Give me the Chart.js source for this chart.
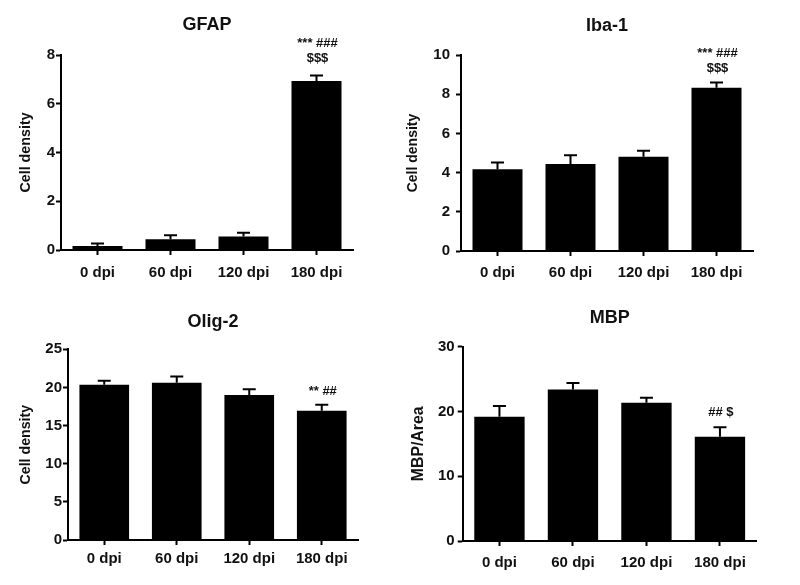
<!DOCTYPE html>
<html><head><meta charset="utf-8">
<script src="https://cdn.jsdelivr.net/npm/chart.js@4/dist/chart.umd.min.js"></script>
<style>
html,body{margin:0;padding:0;background:#fff;overflow:hidden;width:800px;height:585px;}
.p{position:absolute;}
canvas{display:block;}
</style></head><body>
<div class="p" style="left:0;top:0"><canvas id="c1" width="400" height="290"></canvas></div>
<div class="p" style="left:400px;top:0"><canvas id="c2" width="400" height="290"></canvas></div>
<div class="p" style="left:0;top:290px"><canvas id="c3" width="400" height="295"></canvas></div>
<div class="p" style="left:400px;top:290px"><canvas id="c4" width="400" height="295"></canvas></div>
<script>
const categories = ['0 dpi', '60 dpi', '120 dpi', '180 dpi'];

const gfapMean = [0.16, 0.44, 0.55, 6.93];
const gfapSem  = [0.11, 0.17, 0.16, 0.23];
const gfapSig  = [[], [], [], ['*** ###', '$$$']];
const gfapTicks = [0, 2, 4, 6, 8];

const ibaMean = [4.17, 4.44, 4.81, 8.33];
const ibaSem  = [0.35, 0.44, 0.31, 0.27];
const ibaSig  = [[], [], [], ['*** ###', '$$$']];
const ibaTicks = [0, 2, 4, 6, 8, 10];

const oligMean = [20.36, 20.62, 19.0, 16.95];
const oligSem  = [0.52, 0.83, 0.75, 0.78];
const oligSig  = [[], [], [], ['** ##']];
const oligTicks = [0, 5, 10, 15, 20, 25];

const mbpMean = [19.18, 23.41, 21.34, 16.1];
const mbpSem  = [1.65, 0.97, 0.77, 1.45];
const mbpSig  = [[], [], [], ['## $']];
const mbpTicks = [0, 10, 20, 30];

const FONT = '"Liberation Sans", Arial, Helvetica, sans-serif';
const INK = '#111';

const centerTitle = {
  id: 'centerTitle',
  afterLayout(chart) {
    const t = chart.titleBlock;
    if (t) { t.left = chart.chartArea.left; t.right = chart.chartArea.right; t.width = t.right - t.left; }
  }
};

const errorBars = {
  id: 'errorBars',
  afterDatasetsDraw(chart, args, opts) {
    const ds = chart.data.datasets[0];
    const meta = chart.getDatasetMeta(0);
    const ys = chart.scales.y;
    const ctx = chart.ctx;
    ctx.save();
    ctx.strokeStyle = '#000';
    ctx.lineWidth = 2;
    ctx.fillStyle = INK;
    ctx.font = 'bold 13px ' + FONT;
    ctx.textAlign = 'center';
    ctx.textBaseline = 'middle';
    meta.data.forEach((bar, i) => {
      const top = ys.getPixelForValue(ds.data[i] + ds.sem[i]);
      ctx.beginPath();
      ctx.moveTo(bar.x, bar.y);
      ctx.lineTo(bar.x, top);
      ctx.moveTo(bar.x - 6.5, top);
      ctx.lineTo(bar.x + 6.5, top);
      ctx.stroke();
      const lines = ds.sig[i];
      const n = lines.length;
      lines.forEach((t, k) => {
        const y = top - opts.gap - (n - 1 - k) * opts.step;
        ctx.fillText(t, bar.x + 1, y);
      });
    });
    ctx.restore();
  }
};

function makePanel(id, title, yLabel, mean, sem, sig, ticks, L) {
  const yMax = ticks[ticks.length - 1];
  const step = ticks[1] - ticks[0];
  new Chart(document.getElementById(id), {
    type: 'bar',
    data: {
      labels: categories,
      datasets: [{
        data: mean, sem: sem, sig: sig,
        backgroundColor: '#000', borderWidth: 0,
        barPercentage: 0.685, categoryPercentage: 1
      }]
    },
    plugins: [centerTitle, errorBars],
    options: {
      responsive: false, animation: false,
      layout: { padding: { left: 0, right: L.right, top: 0, bottom: 0 } },
      plugins: {
        legend: { display: false }, tooltip: { enabled: false },
        title: { display: true, text: title, color: INK,
          font: { family: FONT, size: 18, weight: 'bold', lineHeight: 1.2 },
          padding: { top: L.tTop, bottom: L.tBot } },
        errorBars: { gap: L.gap, step: 15 }
      },
      scales: {
        x: {
          grid: { display: true, drawOnChartArea: false, offset: false, tickLength: 5, tickWidth: 2, tickColor: '#000' },
          border: { display: true, color: '#000', width: 2 },
          ticks: { color: INK, font: { family: FONT, size: 15, weight: 'bold' }, padding: L.xPad, autoSkip: false, maxRotation: 0 },
          afterFit(s) { s.height = L.xH; }
        },
        y: {
          min: 0, max: yMax,
          grid: { display: true, drawOnChartArea: false, tickLength: 5, tickWidth: 2, tickColor: '#000' },
          border: { display: true, color: '#000', width: 2 },
          ticks: { stepSize: step, color: INK, font: { family: FONT, size: 15, weight: 'bold' }, padding: L.yPad },
          title: { display: true, text: yLabel, color: INK,
            font: { family: FONT, size: L.yFont, weight: 'bold', lineHeight: 1.2 },
            padding: { top: L.yTitle, bottom: 0 } },
          afterFit(s) { s.width = L.yW; }
        }
      }
    }
  });
}

makePanel('c1', 'GFAP', 'Cell density', gfapMean, gfapSem, gfapSig, gfapTicks,
  { right: 47, tTop: 14.5, tBot: 18.9, yW: 61, xH: 40, yTitle: 17.3, yFont: 14.3, yPad: 1, xPad: 8.5, gap: 17 });
makePanel('c2', 'Iba-1', 'Cell density', ibaMean, ibaSem, ibaSig, ibaTicks,
  { right: 47, tTop: 15, tBot: 18.4, yW: 61, xH: 39, yTitle: 4.9, yFont: 14, yPad: 6, xPad: 8, gap: 14 });
makePanel('c3', 'Olig-2', 'Cell density', oligMean, oligSem, oligSig, oligTicks,
  { right: 42, tTop: 21.7, tBot: 16, yW: 68, xH: 45, yTitle: 17.3, yFont: 14.2, yPad: 1, xPad: 5, gap: 13 });
makePanel('c4', 'MBP', 'MBP/Area', mbpMean, mbpSem, mbpSig, mbpTicks,
  { right: 43.3, tTop: 17.5, tBot: 17.6, yW: 62.7, xH: 44, yTitle: 9, yFont: 15.8, yPad: 3, xPad: 8, gap: 15 });
</script>
</body></html>
